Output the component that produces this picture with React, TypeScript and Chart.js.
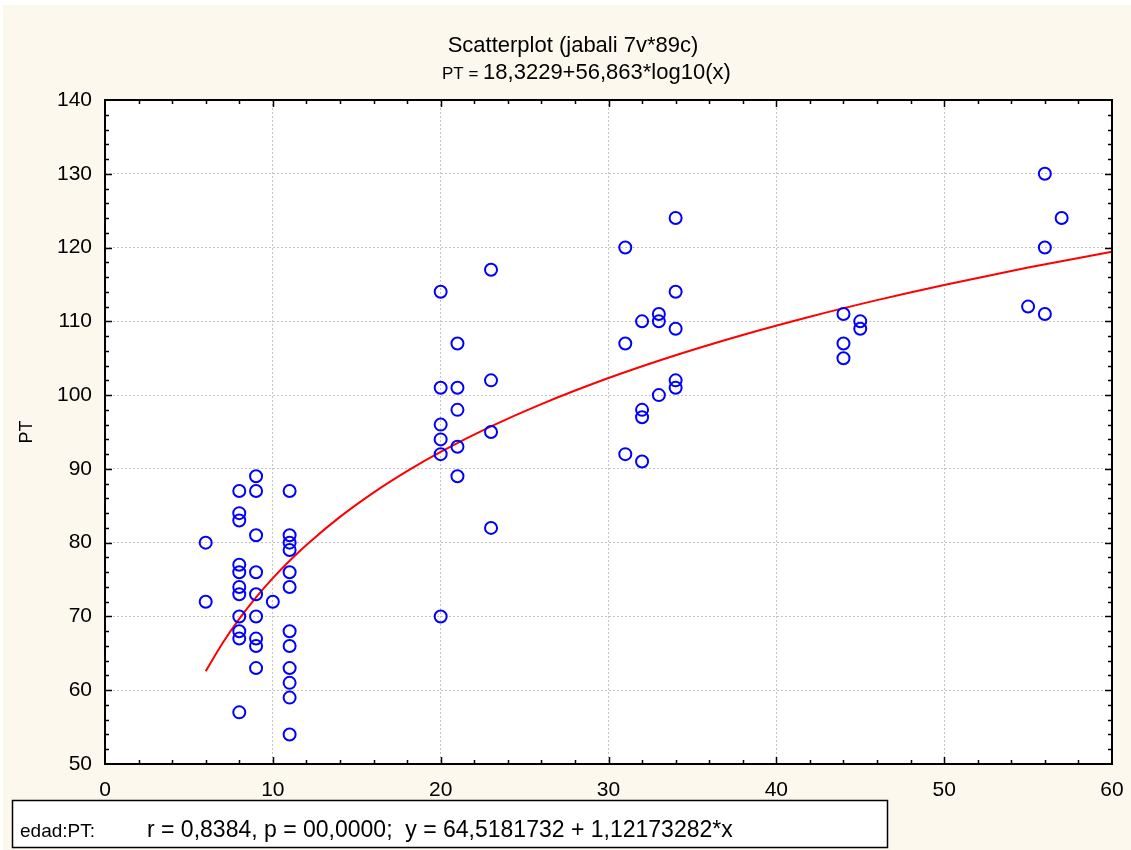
import React, { useEffect, useRef } from "react";
import { Chart, registerables } from "chart.js";

Chart.register(...registerables);

// ---- data ----
const edad = [
  6, 6,
  8, 8, 8, 8, 8, 8, 8, 8, 8, 8, 8,
  9, 9, 9, 9, 9, 9, 9, 9, 9,
  10,
  11, 11, 11, 11, 11, 11, 11, 11, 11, 11, 11, 11,
  20, 20, 20, 20, 20, 20,
  21, 21, 21, 21, 21,
  23, 23, 23, 23,
  31, 31, 31,
  32, 32, 32, 32,
  33, 33, 33,
  34, 34, 34, 34, 34,
  44, 44, 44,
  45, 45,
  55,
  56, 56, 56,
  57,
];
const pt = [
  80, 72,
  87, 84, 83, 77, 76, 74, 73, 70, 68, 67, 57,
  89, 87, 81, 76, 73, 70, 67, 66, 63,
  72,
  87, 81, 80, 79, 76, 74, 68, 66, 63, 61, 59, 54,
  114, 101, 96, 94, 92, 70,
  107, 101, 98, 93, 89,
  117, 102, 95, 82,
  120, 107, 92,
  110, 98, 97, 91,
  111, 110, 100,
  124, 114, 109, 102, 101,
  111, 107, 105,
  110, 109,
  112,
  130, 120, 111,
  124,
];

// fitted curve stated in the chart: PT = 18,3229 + 56,863*log10(x)
const fitIntercept = 18.3229;
const fitSlope = 56.863;
const fitX = [6, 7, 8, 9, 10, 11, 12, 14, 16, 18, 20, 23, 26, 30, 34, 38, 42, 46, 50, 55, 60];

const xRange = [0, 60];
const yRange = [50, 140];

const titleText = "Scatterplot (jabali 7v*89c)";
const subtitleLead = "PT = ";
const subtitleRest = "18,3229+56,863*log10(x)";
const footLead = "edad:PT:";
const footRest = "r = 0,8384, p = 00,0000;  y = 64,5181732 + 1,12173282*x";

const W = 1131;
const H = 850;
const FONT = "'Liberation Sans', Arial, Helvetica, sans-serif";
const CREAM = "#fcf8ee";

const framePlugin = {
  id: "statFrame",
  beforeDraw(chart: any) {
    const { ctx, chartArea: a } = chart;
    ctx.save();
    ctx.fillStyle = "#ffffff";
    ctx.fillRect(0, 0, W, H);
    ctx.fillStyle = CREAM;
    ctx.fillRect(3, 5, W - 3, H - 5);
    ctx.fillStyle = "#ffffff";
    ctx.fillRect(a.left, a.top, a.right - a.left, a.bottom - a.top);
    ctx.restore();
  },
  afterDraw(chart: any) {
    const { ctx, chartArea: a, scales } = chart;
    const xs = scales.x;
    const ys = scales.y;
    ctx.save();
    // frame
    ctx.strokeStyle = "#000";
    ctx.lineWidth = 2;
    ctx.strokeRect(a.left, a.top, a.right - a.left, a.bottom - a.top);
    // inward ticks
    ctx.lineWidth = 1.5;
    ctx.beginPath();
    for (let v = xRange[0] + 2; v < xRange[1]; v += 2) {
      const px = Math.round(xs.getPixelForValue(v)) + 0.5;
      const len = v % 10 === 0 ? 7 : 4;
      ctx.moveTo(px, a.bottom);
      ctx.lineTo(px, a.bottom - len);
      ctx.moveTo(px, a.top);
      ctx.lineTo(px, a.top + len);
    }
    for (let v = yRange[0] + 2; v < yRange[1]; v += 2) {
      const py = Math.round(ys.getPixelForValue(v)) + 0.5;
      const len = v % 10 === 0 ? 7 : 4;
      ctx.moveTo(a.left, py);
      ctx.lineTo(a.left + len, py);
      ctx.moveTo(a.right, py);
      ctx.lineTo(a.right - len, py);
    }
    ctx.stroke();

    // titles
    ctx.fillStyle = "#000";
    ctx.textBaseline = "alphabetic";
    ctx.textAlign = "center";
    ctx.font = `22px ${FONT}`;
    ctx.fillText(titleText, 573, 52);
    ctx.textAlign = "left";
    ctx.font = `17px ${FONT}`;
    ctx.fillText(subtitleLead, 442, 79);
    const lw = ctx.measureText(subtitleLead).width;
    ctx.font = `22px ${FONT}`;
    ctx.fillText(subtitleRest, 442 + lw, 79);

    // bottom statistics box
    ctx.fillStyle = "#ffffff";
    ctx.fillRect(12, 800, 875, 47);
    ctx.strokeStyle = "#000";
    ctx.lineWidth = 1.5;
    ctx.strokeRect(12.5, 800.5, 875, 47);
    ctx.fillStyle = "#000";
    ctx.font = `19px ${FONT}`;
    ctx.fillText(footLead, 20, 837);
    ctx.font = `23px ${FONT}`;
    ctx.fillText(footRest, 147, 837);
    ctx.restore();
  },
};

export default function App() {
  const ref = useRef<HTMLCanvasElement | null>(null);

  useEffect(() => {
    if (!ref.current) return;
    const chart = new Chart(ref.current, {
      type: "scatter",
      data: {
        datasets: [
          {
            type: "scatter",
            label: "PT",
            data: edad.map((x, i) => ({ x, y: pt[i] })),
            pointStyle: "circle",
            pointRadius: 6,
            pointBorderWidth: 2,
            borderColor: "#0000ff",
            backgroundColor: "rgba(0,0,0,0)",
            pointBackgroundColor: "rgba(0,0,0,0)",
            pointBorderColor: "#0000ff",
          },
          {
            type: "line",
            label: "fit",
            data: fitX.map((x) => ({ x, y: fitIntercept + fitSlope * Math.log10(x) })),
            borderColor: "#ff0000",
            borderWidth: 2,
            pointRadius: 0,
            fill: false,
            cubicInterpolationMode: "monotone",
          },
        ],
      } as any,
      options: {
        animation: false,
        responsive: false,
        maintainAspectRatio: false,
        layout: { padding: { left: 0, right: 19, top: 100, bottom: 0 } },
        plugins: {
          legend: { display: false },
          tooltip: { enabled: false },
          title: { display: false },
        },
        scales: {
          x: {
            type: "linear",
            min: xRange[0],
            max: xRange[1],
            afterFit: (s: any) => {
              s.height = 86;
              s.paddingLeft = 0;
              s.paddingRight = 0;
            },
            ticks: {
              stepSize: 10,
              color: "#000",
              padding: 14,
              font: { family: FONT, size: 21 },
            },
            grid: { color: "#c4c4c4", lineWidth: 1, drawTicks: false },
            border: { display: false, dash: [2, 2] },
          },
          y: {
            type: "linear",
            min: yRange[0],
            max: yRange[1],
            afterFit: (s: any) => {
              s.width = 105;
              s.paddingTop = 0;
              s.paddingBottom = 0;
            },
            ticks: {
              stepSize: 10,
              color: "#000",
              padding: 13,
              font: { family: FONT, size: 21 },
            },
            title: {
              display: true,
              text: "PT",
              color: "#000",
              font: { family: FONT, size: 18 },
              padding: { top: 16, bottom: 0 },
            },
            grid: { color: "#c4c4c4", lineWidth: 1, drawTicks: false },
            border: { display: false, dash: [2, 2] },
          },
        },
      } as any,
      plugins: [framePlugin],
    });
    return () => chart.destroy();
  }, []);

  return (
    <div style={{ position: "absolute", left: 0, top: 0, width: W, height: H }}>
      <canvas ref={ref} width={W} height={H} style={{ display: "block", width: W, height: H }} />
    </div>
  );
}
